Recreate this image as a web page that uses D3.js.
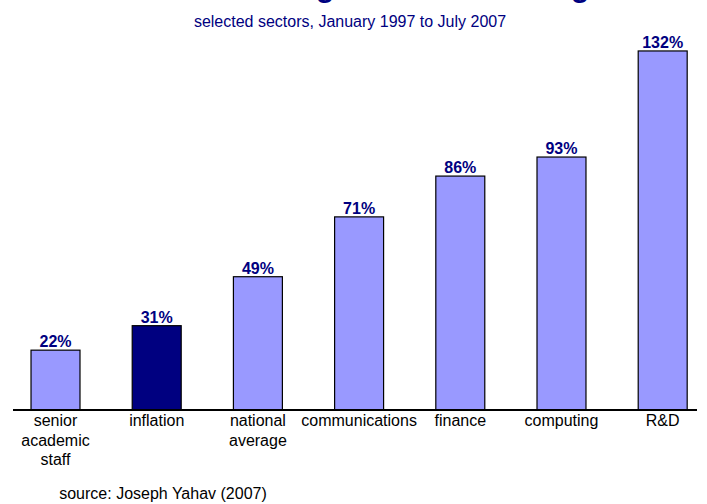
<html>
<head>
<script src="https://d3js.org/d3.v7.min.js"></script>
<style>
  body { margin: 0; background: white; }
  svg { display: block; }
</style>
</head>
<body>
<svg width="707" height="504"></svg>
<script>
// data
var categories = ["senior academic staff", "inflation", "national average", "communications", "finance", "computing", "R&D"];
var labelLines = [["senior", "academic", "staff"], ["inflation"], ["national", "average"], ["communications"], ["finance"], ["computing"], ["R&D"]];
var growth = [22, 31, 49, 71, 86, 93, 132];
var highlight = "inflation";

// the title sits above the top edge, only its descenders show
var titleText = "Academic wages trail the average";
var subtitleText = "selected sectors, January 1997 to July 2007";
var sourceText = "source: Joseph Yahav (2007)";

var svg = d3.select("svg");
var font = "Arial, 'Liberation Sans', sans-serif";
var navy = "#000080";
var lilac = "#9999FF";

var baseY = 410;

var x = d3.scaleBand()
    .domain(categories)
    .range([-21.2, 739.4])
    .padding(0.516);

var y = d3.scaleLinear()
    .domain([0, 140])
    .range([baseY, baseY - 140 * 2.72]);

svg.append("text")
    .attr("x", 366)
    .attr("y", -3)
    .attr("text-anchor", "middle")
    .attr("font-family", font)
    .attr("font-size", 30)
    .attr("font-weight", "bold")
    .attr("fill", navy)
    .text(titleText);

svg.append("text")
    .attr("x", 350)
    .attr("y", 27)
    .attr("text-anchor", "middle")
    .attr("font-family", font)
    .attr("font-size", 16)
    .attr("fill", navy)
    .text(subtitleText);

// bars
svg.selectAll(".bar")
    .data(categories)
    .enter()
    .append("rect")
    .attr("class", "bar")
    .attr("x", function(d) { return x(d); })
    .attr("width", x.bandwidth())
    .attr("y", function(d, i) { return y(growth[i]); })
    .attr("height", function(d, i) { return baseY - y(growth[i]); })
    .attr("fill", function(d) { return d == highlight ? navy : lilac; })
    .attr("stroke", "black")
    .attr("stroke-width", 1.2);

// value labels
svg.selectAll(".barAnnotation")
    .data(categories)
    .enter()
    .append("text")
    .attr("class", "barAnnotation")
    .attr("x", function(d) { return x(d) + x.bandwidth() / 2; })
    .attr("y", function(d, i) { return y(growth[i]) - 3; })
    .attr("text-anchor", "middle")
    .attr("font-family", font)
    .attr("font-size", 16)
    .attr("font-weight", "bold")
    .attr("fill", navy)
    .text(function(d, i) { return growth[i] + "%"; });

// baseline
svg.append("line")
    .attr("x1", 13)
    .attr("x2", 697)
    .attr("y1", baseY)
    .attr("y2", baseY)
    .attr("stroke", "black")
    .attr("stroke-width", 2);

// category labels
var labels = svg.selectAll(".catLabel")
    .data(categories)
    .enter()
    .append("text")
    .attr("class", "catLabel")
    .attr("text-anchor", "middle")
    .attr("font-family", font)
    .attr("font-size", 16)
    .attr("fill", "black");

labels.each(function(d, i) {
    var cx = x(d) + x.bandwidth() / 2;
    d3.select(this).selectAll("tspan")
        .data(labelLines[i])
        .enter()
        .append("tspan")
        .attr("x", cx)
        .attr("y", function(l, j) { return 426 + j * 19.5; })
        .text(function(l) { return l; });
});

svg.append("text")
    .attr("x", 163)
    .attr("y", 499)
    .attr("text-anchor", "middle")
    .attr("font-family", font)
    .attr("font-size", 16)
    .attr("fill", "black")
    .text(sourceText);
</script>
</body>
</html>
